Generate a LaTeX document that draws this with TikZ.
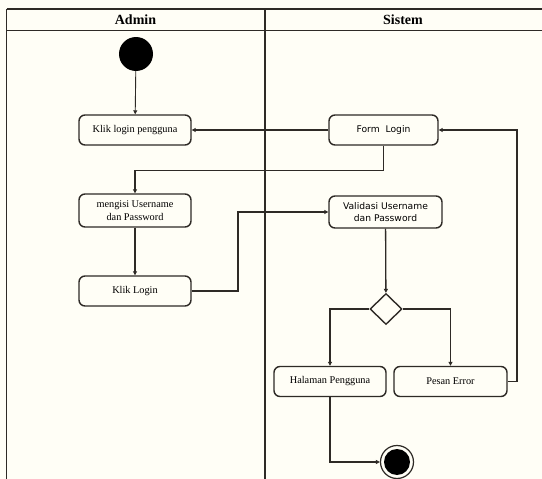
\documentclass[tikz,border=0pt]{standalone}
\usepackage{fontspec}
\setmainfont{Liberation Serif}
\newfontfamily\sansf{DejaVu Sans}
\usetikzlibrary{arrows.meta,shapes.geometric}
\definecolor{bg}{HTML}{FFFEF6}
\definecolor{ln}{HTML}{2E2A26}
\tikzset{
  act/.style={draw=ln, line width=1.4pt, rounded corners=6pt, fill=bg, minimum width=112pt, minimum height=30pt, align=center, font=\fontsize{10.3}{12}\selectfont, inner sep=1pt},
  conn/.style={draw=ln, line width=1.3pt, -{Triangle[length=4pt,width=4pt]}},
  lane/.style={draw=ln, line width=1.3pt},
}
\begin{document}
\begin{tikzpicture}[x=1pt,y=-1pt]
\useasboundingbox[fill=bg] (0,0) rectangle (542,479);
% swimlanes
\draw[lane] (6.5,9) -- (542,9);
\draw[lane] (6.5,30.5) -- (542,30.5);
\draw[lane] (6.5,9) -- (6.5,479);
\draw[lane] (265,9) -- (265,479);
\node[font=\fontsize{14}{16}\selectfont\bfseries] (hadmin) at (135.5,19.5) {Admin};
\node[font=\fontsize{14}{16}\selectfont\bfseries] (hsistem) at (403,19.5) {Sistem};
% nodes
\node[circle, fill=black, minimum size=34pt, inner sep=0pt] (start) at (136,54) {};
\node[act] (klik1) at (135,130) {Klik login pengguna};
\node[act, minimum height=33pt, font=\fontsize{10.3}{12.5}\selectfont] (isi) at (135,210.5) {mengisi Username\\dan Password};
\node[act] (klik2) at (135,291) {Klik Login};
\node[act, minimum width=109pt, font=\sansf\fontsize{9.2}{11}\selectfont] (form) at (383.5,130) {Form\ \ Login};
\node[act, minimum width=113pt, minimum height=32pt, font=\sansf\fontsize{9.2}{12.5}\selectfont] (valid) at (385.5,212) {Validasi Username\\dan Password};
\node[diamond, draw=ln, line width=1.4pt, fill=bg, minimum width=32pt, minimum height=31pt, inner sep=0pt] (dec) at (386,309) {};
\node[act] (hal) at (330,381.5) {Halaman Pengguna};
\node[act, minimum width=113pt] (err) at (450.5,381.5) {Pesan Error};
\node[circle, draw=ln, line width=1.2pt, fill=bg, minimum size=33pt, inner sep=0pt] (end) at (397,462) {};
\node[circle, fill=black, minimum size=26pt, inner sep=0pt] (endin) at (end) {};
% connectors
\draw[conn, line width=0.9pt] (start) -- (klik1);
\draw[conn] (form) -- (klik1);
\draw[conn] (form.south) -- ++(0,25) -| (isi.north);
\draw[conn] (isi) -- (klik2);
\draw[conn] (klik2.east) -- (238,291) |- (valid.west);
\draw[conn] (valid) -- (dec);
\draw[conn] (dec.west) -| (hal.north);
\draw[conn] (dec.east) -| (err.north);
\draw[conn] (err.east) -- (517,381.5) |- (form.east);
\draw[conn] (hal.south) |- (end.west);
\end{tikzpicture}
\end{document}
